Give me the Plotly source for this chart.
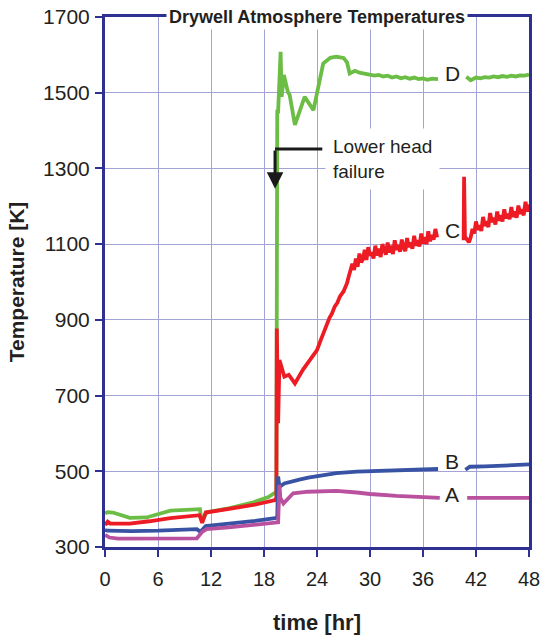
import plotly.graph_objects as go

# ---- Data ----
# D (green)
d_t = [0, 0.3, 0.9, 2.8, 4.7, 7.4, 10.75, 10.9, 11.2, 11.5, 14, 16.8, 18.5, 19.25, 19.4,
       19.5, 19.6, 19.88, 20.0, 20.25, 20.7, 20.9, 21.5, 22.6, 23.6, 24.7, 25.5, 26.2, 27.0,
       27.4, 27.7, 28.3, 28.8, 29.5, 30, 30.5, 31, 31.5, 32, 32.5, 33, 33.5, 34, 34.5, 35,
       35.5, 36, 36.5, 37, 37.7, None,
       40.9, 41.4, 42, 42.5, 43, 43.5, 44, 44.5, 45, 45.5, 46, 46.5, 47, 47.5, 48]
d_v = [389, 392, 391, 377, 378, 396, 400, 372, 378, 392, 402, 418, 432, 442, 446,
       1450, 1450, 1608, 1489, 1547, 1502, 1495, 1415, 1489, 1454, 1577, 1592, 1595, 1592,
       1580, 1551, 1558, 1553, 1550, 1548, 1545, 1547, 1543, 1545, 1540, 1543, 1538, 1541, 1537, 1540,
       1536, 1538, 1534, 1537, 1536, None,
       1542, 1533, 1540, 1538, 1541, 1540, 1543, 1541, 1544, 1542, 1545, 1543, 1546, 1545, 1548]

# C (red)
c_t = [0, 0.3, 0.6, 2.8, 5, 7.4, 10.7, 11.0, 11.4, 14, 16.8, 19.25, 19.4,
       19.45, 19.6, 19.75, 20.3, 20.8, 21.5, 22.4, 23.6, 24.0, 24.4, 24.7, 25.0, 25.4, 25.7,
       26.0, 26.3, 26.6, 27.0, 27.4, 27.6,
       27.8, 28.0, 28.2, 28.4, 28.6, 28.8, 29.0, 29.2, 29.4, 29.6, 29.8, 30.0, 30.2, 30.4,
       30.6, 30.8, 31.0, 31.2, 31.4, 31.6, 31.8, 32.0, 32.2, 32.4, 32.6, 32.8, 33.0, 33.2,
       33.4, 33.6, 33.8, 34.0, 34.2, 34.4, 34.6, 34.8, 35.0, 35.2, 35.4, 35.6, 35.8, 36.0,
       36.2, 36.4, 36.6, 36.8, 37.0, 37.2, 37.4, 37.6, None,
       40.6, 40.65, 40.75, 41.0, 41.2, 41.4, 41.6, 41.8, 42.0, 42.2, 42.4, 42.6, 42.8, 43.0,
       43.2, 43.4, 43.6, 43.8, 44.0, 44.2, 44.4, 44.6, 44.8, 45.0, 45.2, 45.4, 45.6, 45.8,
       46.0, 46.2, 46.4, 46.6, 46.8, 47.0, 47.2, 47.4, 47.6, 47.8, 48.0]
c_v = [358, 367, 362, 362, 368, 376, 384, 364, 391, 400, 411, 424, 430,
       877, 627, 794, 750, 755, 732, 768, 807, 820, 845, 865, 880, 905, 917,
       935, 945, 962, 975, 997, 1015,
       1030, 1048, 1032, 1062, 1040, 1075, 1052, 1060, 1085, 1058, 1092, 1070, 1078, 1062,
       1096, 1070, 1088, 1066, 1100, 1082, 1072, 1104, 1078, 1096, 1074, 1110, 1085, 1098,
       1080, 1112, 1090, 1082, 1116, 1092, 1104, 1088, 1122, 1096, 1110, 1094, 1128, 1102,
       1118, 1100, 1134, 1108, 1124, 1112, 1140, 1118, None,
       1110, 1278, 1120, 1112, 1105, 1118, 1140, 1128, 1160, 1138, 1150, 1135, 1172, 1148,
       1160, 1145, 1182, 1158, 1170, 1152, 1186, 1162, 1176, 1160, 1192, 1168, 1180, 1166,
       1198, 1172, 1186, 1170, 1202, 1180, 1192, 1176, 1212, 1186, 1205]

# B (blue)
b_t = [0, 0.3, 3, 6, 10.4, 10.8, 11.4, 14, 17, 19.25, 19.5, 19.6, 19.75, 20.3, 20.9, 22, 23,
       24, 25, 26.2, 28.5, 30, 32, 34, 36, 37.7, None, 40.8, 41.3, 43, 45, 47, 48]
b_v = [345, 343, 342, 343, 347, 340, 355, 361, 369, 376, 378, 486, 459, 468, 472, 478, 483,
       487, 492, 495, 499, 500, 501, 503, 504, 506, None, 504, 512, 513, 515, 517, 518]

# A (magenta)
a_t = [0, 0.5, 1.5, 5, 10.4, 11.0, 11.5, 14, 17, 19.25, 19.6, 19.75, 19.85, 20.2, 20.6, 21.3,
       23, 26.2, 28.5, 30, 33, 35, 37.9, None, 41, 43, 45, 48]
a_v = [332, 325, 322, 322, 323, 340, 347, 352, 358, 363, 365, 464, 430, 415, 425, 442,
       446, 448, 444, 440, 435, 432, 430, None, 430, 430, 429, 430]

x_ticks = [0, 6, 12, 18, 24, 30, 36, 42, 48]
y_ticks = [300, 500, 700, 900, 1100, 1300, 1500, 1700]

series = [
    ("D", d_t, d_v, "#6cbd45"),
    ("C", c_t, c_v, "#ed1c24"),
    ("B", b_t, b_v, "#3953a4"),
    ("A", a_t, a_v, "#b9519f"),
]
label_pos = {"D": 1551, "C": 1137, "B": 527, "A": 440}

AXIS = "#2e3192"
GRID = "#a3a3d6"
TXT = "#231f20"
FONT = "Liberation Sans, Arial"

fig = go.Figure()
for name, t, v, col in series:
    fig.add_trace(go.Scatter(x=t, y=v, mode="lines", name=name,
                             line=dict(color=col, width=3.8),
                             connectgaps=False, showlegend=False))

for name in label_pos:
    fig.add_annotation(x=39.3, y=label_pos[name], text=name, showarrow=False,
                       font=dict(family=FONT, size=21, color=TXT),
                       xanchor="center", yanchor="middle")

# Lower head failure annotation
fig.add_annotation(x=24.95, y=1324, text="Lower head<br>failure", showarrow=False,
                   xanchor="left", yanchor="middle", align="left",
                   font=dict(family=FONT, size=19, color=TXT),
                   bgcolor="white", borderpad=7)
fig.add_shape(type="line", x0=24.6, y0=1351, x1=19.25, y1=1351,
              line=dict(color="#1a1a1a", width=3))
fig.add_annotation(x=19.25, y=1246, ax=19.25, ay=1351, axref="x", ayref="y",
                   text="", showarrow=True, arrowhead=2, arrowsize=1.1,
                   arrowwidth=3, arrowcolor="#1a1a1a")

# Title over the top border
fig.add_annotation(x=0.5, y=1, xref="paper", yref="paper",
                   text="<b>Drywell Atmosphere Temperatures</b>", showarrow=False,
                   xanchor="center", yanchor="middle",
                   font=dict(family=FONT, size=18, color=TXT),
                   bgcolor="white", borderpad=2)

fig.update_xaxes(range=[0, 48], tickvals=x_ticks, ticktext=[str(t) for t in x_ticks],
                 showgrid=True, gridcolor=GRID, gridwidth=1,
                 showline=True, linecolor=AXIS, linewidth=3, mirror=True,
                 ticks="outside", ticklen=7, tickwidth=1.5, tickcolor=AXIS,
                 tickfont=dict(family=FONT, size=20, color=TXT),
                 ticklabelstandoff=5, automargin=False, ticklabeloverflow="allow",
                 title=dict(text="<b>time [hr]</b>", standoff=26,
                            font=dict(family=FONT, size=22, color=TXT)),
                 zeroline=False)
fig.update_yaxes(range=[300, 1700], tickvals=y_ticks, ticktext=[str(t) for t in y_ticks],
                 showgrid=True, gridcolor=GRID, gridwidth=1,
                 showline=True, linecolor=AXIS, linewidth=3, mirror=True,
                 ticks="outside", ticklen=7, tickwidth=1.5, tickcolor=AXIS,
                 tickfont=dict(family=FONT, size=21, color=TXT),
                 ticklabelstandoff=1, automargin=False, ticklabeloverflow="allow",
                 title=dict(text="<b>Temperature [K]</b>", standoff=13,
                            font=dict(family=FONT, size=21, color=TXT)),
                 zeroline=False)

fig.update_layout(width=543, height=640, margin=dict(l=105, r=14, t=17, b=93),
                  plot_bgcolor="white", paper_bgcolor="white")

# remove the default page margin so the figure fills the window exactly
fig.write_html("out.html", config={"displayModeBar": False},
               post_script="document.body.style.margin='0';document.body.style.overflow='hidden';")
